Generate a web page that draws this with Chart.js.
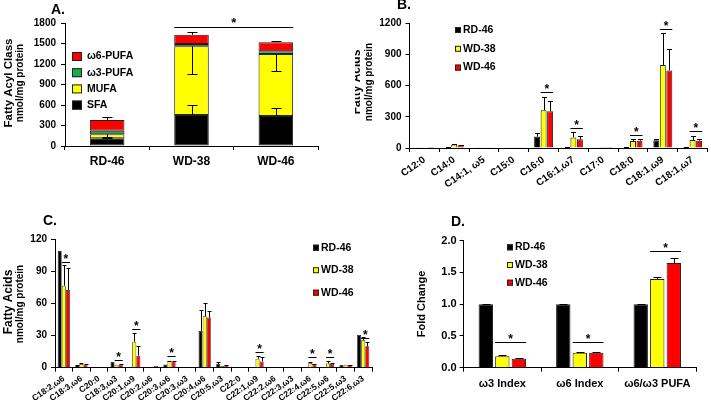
<!DOCTYPE html>
<html><head><meta charset="utf-8">
<script src="https://cdn.jsdelivr.net/npm/chart.js@4.4.1/dist/chart.umd.min.js"></script>
<style>
html,body{margin:0;padding:0;background:#fff;}
#wrap{position:relative;width:711px;height:405px;overflow:hidden;background:#fff;}
canvas{position:absolute;}
</style></head><body>
<div id="wrap">
<canvas id="cA" width="355" height="200" style="left:0;top:0;width:355px;height:200px"></canvas>
<canvas id="cB" width="356" height="200" style="left:355px;top:0;width:356px;height:200px"></canvas>
<canvas id="cC" width="380" height="205" style="left:0;top:200px;width:380px;height:205px"></canvas>
<canvas id="cD" width="331" height="205" style="left:380px;top:200px;width:331px;height:205px"></canvas>
</div>
<script>
// ---------- DATA ----------
// Panel A (stacked fatty acyl classes, nmol/mg protein)
const groupsA = ['RD-46', 'WD-38', 'WD-46'];
const sfaA  = [112, 455, 440];
const mufaA = [60, 1003, 905];
const w3A   = [53, 34, 40];
const w6A   = [157, 137, 132];
const sfaErrA  = [10, 147, 113];
const mufaErrA = [35, 400, 245];
const w6ErrA   = [45, 39, 19];
const ticksA = [0, 300, 600, 900, 1200, 1500, 1800];
const sigA = { from: 1, to: 2, level: 1741 };

// Panel B (fatty acids)
const catsB = ['C12:0', 'C14:0', 'C14:1, ω5', 'C15:0', 'C16:0', 'C16:1,ω7', 'C17:0', 'C18:0', 'C18:1,ω9', 'C18:1,ω7'];
const rdB   = [2, 5, 2, 2, 111, 8, 2, 5, 75, 10];
const wd38B = [2, 33, 3, 3, 363, 102, 1, 67, 796, 76];
const wd46B = [1, 27, 3, 3, 353, 83, 1, 70, 745, 70];
const rdErrB   = [0, 1, 0, 0, 29, 2, 0, 1, 15, 2];
const wd38ErrB = [0, 5, 0, 0, 130, 48, 0, 19, 308, 35];
const wd46ErrB = [0, 3, 0, 0, 99, 28, 0, 16, 207, 16];
const ticksB = [0, 300, 600, 900, 1200];
const sigCatsB = [4, 5, 7, 8, 9];
const sigLevelsB = [538, 191, 124, 1143, 165];

// Panel C (PUFA / long chain)
const catsC = ['C18:2,ω6', 'C18:3,ω6', 'C20:0', 'C18:3,ω3', 'C20:1,ω9', 'C20:2,ω6', 'C20:3,ω6', 'C20:3,ω3', 'C20:4,ω6', 'C20:5,ω3', 'C22:0', 'C22:1,ω9', 'C22:2,ω6', 'C22:3,ω3', 'C22:4,ω6', 'C22:5,ω6', 'C22:5,ω3', 'C22:6,ω3'];
const rdC   = [109.4, 2.2, 0.5, 5.3, 0.3, 0.5, 3.0, 0.2, 34.3, 3.4, 0.2, 0.3, 0.1, 0.1, 0.3, 0.3, 2.5, 30.5];
const wd38C = [76.7, 3.5, 0.2, 2.8, 24.3, 1.0, 6.2, 0.2, 48.0, 1.5, 0.2, 8.4, 0.2, 0.2, 4.4, 4.0, 2.8, 26.0];
const wd46C = [72.6, 2.8, 0.2, 3.0, 11.2, 1.6, 5.6, 0.2, 46.8, 2.2, 0.2, 5.9, 0.2, 0.2, 3.4, 3.7, 2.5, 20.0];
const rdErrC   = [0, 0.5, 0.3, 0, 0, 0, 0, 0, 19.6, 1.6, 0, 0, 0, 0, 0, 0, 0, 0];
const wd38ErrC = [19, 1, 0, 0, 7.7, 0, 0.5, 0, 12.8, 0, 0, 2.5, 0, 0, 0.9, 1.9, 0, 3];
const wd46ErrC = [20.3, 0.5, 0, 0.3, 9.4, 0, 0.9, 0, 6.2, 0.3, 0, 4.4, 0, 0, 0.5, 0.5, 0.3, 4];
const ticksC = [0, 30, 60, 90, 120];
const sigCatsC = [0, 3, 4, 6, 11, 14, 15, 17];
const sigLevelsC = [99, 7.2, 36, 11, 15, 10, 10, 28];

// Panel D (fold change)
const catsD = ['ω3 Index', 'ω6 Index', 'ω6/ω3 PUFA'];
const rdD   = [1.0, 1.0, 1.0];
const wd38D = [0.18, 0.236, 1.396];
const wd46D = [0.14, 0.236, 1.65];
const rdErrD   = [0.01, 0.01, 0.01];
const wd38ErrD = [0.02, 0.015, 0.04];
const wd46ErrD = [0.02, 0.01, 0.07];
const ticksD = [0, 0.5, 1.0, 1.5, 2.0];
const sigCatsD = [0, 1, 2];
const sigLevelsD = [0.40, 0.41, 1.83];

const seriesNames = ['RD-46', 'WD-38', 'WD-46'];
// ---------- STYLE ----------
const FF = '"Liberation Sans", Arial, Helvetica, sans-serif';
const BLACK = '#000000', YELLOW = '#FFFF00', RED = '#FF0000', GREEN = '#1FAA4A';
Chart.defaults.font.family = FF;
Chart.defaults.color = '#000';

// ---------- PLUGINS ----------
const errPlugin = {
  id: 'errbars',
  afterDatasetsDraw(chart, args, o) {
    const ctx = chart.ctx, ys = chart.scales.y;
    const cap = (o && o.cap) || 3;
    ctx.save();
    ctx.strokeStyle = '#000'; ctx.lineWidth = 1;
    chart.data.datasets.forEach((ds, di) => {
      if (!ds.err) return;
      const dir = ds.errDir || 1;
      chart.getDatasetMeta(di).data.forEach((el, i) => {
        const e = ds.err[i];
        if (!e) return;
        const px = Math.abs(ys.getPixelForValue(0) - ys.getPixelForValue(e));
        const y0 = el.y, y1 = el.y - dir * px;
        const x = Math.round(el.x) + 0.5;
        const yc = Math.round(y1) + 0.5;
        ctx.beginPath();
        ctx.moveTo(x, y0); ctx.lineTo(x, yc);
        ctx.moveTo(x - cap, yc); ctx.lineTo(x + cap, yc);
        ctx.stroke();
      });
    });
    ctx.restore();
  }
};

const sigPlugin = {
  id: 'sig',
  afterDatasetsDraw(chart, args, o) {
    if (!o || !o.items) return;
    const ctx = chart.ctx, ys = chart.scales.y;
    ctx.save();
    ctx.strokeStyle = '#000'; ctx.lineWidth = 1; ctx.fillStyle = '#000';
    ctx.font = o.font; ctx.textAlign = 'center'; ctx.textBaseline = 'alphabetic';
    o.items.forEach(it => {
      const a = chart.getDatasetMeta(o.dsFrom).data[it.from];
      const b = chart.getDatasetMeta(o.dsTo).data[it.to];
      const x1 = a.x - a.width / 2, x2 = b.x + b.width / 2;
      const y = Math.round(ys.getPixelForValue(it.level)) + 0.5;
      ctx.beginPath(); ctx.moveTo(x1, y); ctx.lineTo(x2, y); ctx.stroke();
      ctx.fillText('*', (x1 + x2) / 2, y + (o.starDy || 0));
    });
    ctx.restore();
  }
};

const decorPlugin = {
  id: 'decor',
  afterDraw(chart, args, o) {
    const ctx = chart.ctx;
    ctx.save();
    ctx.fillStyle = '#000';
    (o.texts || []).forEach(t => {
      ctx.save();
      ctx.font = t.font; ctx.textAlign = 'center'; ctx.textBaseline = 'middle';
      ctx.translate(t.x, t.y);
      if (t.rot) ctx.rotate(t.rot);
      ctx.fillText(t.text, 0, 0);
      ctx.restore();
    });
    if (o.legend) {
      const L = o.legend;
      let ds = chart.data.datasets.slice();
      if (L.reverse) ds.reverse();
      ds.forEach((d, k) => {
        const yy = L.y + k * L.dy;
        ctx.fillStyle = d.backgroundColor;
        ctx.fillRect(L.x, yy - L.bh / 2, L.bw, L.bh);
        ctx.strokeStyle = '#222'; ctx.lineWidth = 1;
        ctx.strokeRect(L.x + 0.5, yy - L.bh / 2 + 0.5, L.bw - 1, L.bh - 1);
        ctx.fillStyle = '#000';
        ctx.font = L.font; ctx.textAlign = 'left'; ctx.textBaseline = 'middle';
        ctx.fillText(d.label, L.x + L.bw + L.gap, yy);
      });
    }
    ctx.restore();
  }
};

function yScale(min, max, ticks, font, width, pad, fmt) {
  return {
    min: min, max: max,
    afterBuildTicks: s => { s.ticks = ticks.map(v => ({ value: v })); },
    afterFit: s => { s.width = width; },
    grid: { display: true, drawOnChartArea: false, drawTicks: true, tickLength: 4, color: '#000', lineWidth: 1 },
    border: { display: true, color: '#000', width: 1 },
    ticks: { font: font, color: '#000', padding: pad, callback: fmt || (v => v) }
  };
}
function xScale(font, height, pad, rot, stacked) {
  return {
    stacked: !!stacked,
    afterFit: s => { s.height = height; },
    grid: { display: true, offset: true, drawOnChartArea: false, drawTicks: true, tickLength: 4, color: '#000', lineWidth: 1 },
    border: { display: true, color: '#000', width: 1 },
    ticks: { font: font, color: '#000', padding: pad, autoSkip: false, minRotation: rot, maxRotation: rot }
  };
}
function groupDatasets(vals, errs, catPct, barPct, bw) {
  const cols = [BLACK, YELLOW, RED];
  return vals.map((v, k) => ({
    label: seriesNames[k], data: v, err: errs[k],
    backgroundColor: cols[k], borderColor: '#222', borderWidth: bw, borderSkipped: 'bottom',
    categoryPercentage: catPct, barPercentage: barPct
  }));
}
const common = { responsive: false, animation: false, events: [], devicePixelRatio: 1 };
const noLegend = { legend: { display: false }, tooltip: { enabled: false }, title: { display: false } };

// ---------- PANEL A ----------
new Chart(document.getElementById('cA'), {
  type: 'bar',
  data: {
    labels: groupsA,
    datasets: [
      { label: 'SFA', data: sfaA, err: sfaErrA, errDir: 1, backgroundColor: BLACK },
      { label: 'MUFA', data: mufaA, err: mufaErrA, errDir: -1, backgroundColor: YELLOW },
      { label: 'ω3-PUFA', data: w3A, backgroundColor: GREEN },
      { label: 'ω6-PUFA', data: w6A, err: w6ErrA, errDir: 1, backgroundColor: RED }
    ].map(d => Object.assign(d, { borderColor: '#222', borderWidth: 1, borderSkipped: false, categoryPercentage: 1, barPercentage: 0.41 }))
  },
  options: Object.assign({}, common, {
    layout: { padding: { top: 23, right: 37, left: 0, bottom: 0 } },
    scales: {
      x: xScale({ size: 12, weight: 'bold' }, 54, 4, 0, true),
      y: Object.assign(yScale(0, 1800, ticksA, { size: 10, weight: 'bold' }, 65, 5), { stacked: true })
    },
    plugins: Object.assign({}, noLegend, {
      errbars: { cap: 5 },
      sig: { dsFrom: 0, dsTo: 0, items: [sigA], font: 'bold 13px ' + FF, starDy: -1 },
      decor: {
        texts: [
          { text: 'A.', x: 58, y: 10, font: 'bold 14px ' + FF },
          { text: 'Fatty Acyl Class', x: 9, y: 83, rot: -Math.PI / 2, font: 'bold 11.5px ' + FF },
          { text: 'nmol/mg protein', x: 20, y: 83, rot: -Math.PI / 2, font: 'bold 10px ' + FF }
        ],
        legend: { x: 72, y: 56.5, dy: 16.2, bw: 10, bh: 9, gap: 5, reverse: true, font: 'bold 10.5px ' + FF }
      }
    })
  }),
  plugins: [errPlugin, sigPlugin, decorPlugin]
});

// ---------- PANEL B ----------
new Chart(document.getElementById('cB'), {
  type: 'bar',
  data: { labels: catsB, datasets: groupDatasets([rdB, wd38B, wd46B], [rdErrB, wd38ErrB, wd46ErrB], 0.655, 0.92, 1) },
  options: Object.assign({}, common, {
    layout: { padding: { top: 23, right: 3.5, left: 0, bottom: 0 } },
    scales: {
      x: xScale({ size: 10, weight: 'bold' }, 52, 2, 35),
      y: yScale(0, 1200, ticksB, { size: 10, weight: 'bold' }, 54.5, 4)
    },
    plugins: Object.assign({}, noLegend, {
      errbars: { cap: 2.5 },
      sig: { dsFrom: 1, dsTo: 2, items: sigCatsB.map((c, k) => ({ from: c, to: c, level: sigLevelsB[k] })), font: 'bold 12px ' + FF, starDy: 0 },
      decor: {
        texts: [
          { text: 'B.', x: 49, y: 5, font: 'bold 14px ' + FF },
          { text: 'Fatty Acids', x: 2, y: 82, rot: -Math.PI / 2, font: 'bold 12px ' + FF },
          { text: 'nmol/mg protein', x: 14, y: 82, rot: -Math.PI / 2, font: 'bold 10px ' + FF }
        ],
        legend: { x: 100, y: 30, dy: 18.8, bw: 6, bh: 6, gap: 2, font: 'bold 10.5px ' + FF }
      }
    })
  }),
  plugins: [errPlugin, sigPlugin, decorPlugin]
});

// ---------- PANEL C ----------
new Chart(document.getElementById('cC'), {
  type: 'bar',
  data: { labels: catsC, datasets: groupDatasets([rdC, wd38C, wd46C], [rdErrC, wd38ErrC, wd46ErrC], 0.70, 0.98, 0.75) },
  options: Object.assign({}, common, {
    layout: { padding: { top: 39.3, right: 8, left: 0, bottom: 0 } },
    scales: {
      x: xScale({ size: 8.5, weight: 'bold' }, 37.3, 2, 35),
      y: yScale(0, 120, ticksC, { size: 10, weight: 'bold' }, 55, 4)
    },
    plugins: Object.assign({}, noLegend, {
      errbars: { cap: 2 },
      sig: { dsFrom: 1, dsTo: 2, items: sigCatsC.map((c, k) => ({ from: c, to: c, level: sigLevelsC[k] })), font: 'bold 12px ' + FF, starDy: 0 },
      decor: {
        texts: [
          { text: 'C.', x: 50, y: 21, font: 'bold 14px ' + FF },
          { text: 'Fatty Acids', x: 9, y: 102, rot: -Math.PI / 2, font: 'bold 12px ' + FF },
          { text: 'nmol/mg protein', x: 20, y: 104, rot: -Math.PI / 2, font: 'bold 10px ' + FF }
        ],
        legend: { x: 313, y: 47.7, dy: 22.5, bw: 6, bh: 6, gap: 2, font: 'bold 10.5px ' + FF }
      }
    })
  }),
  plugins: [errPlugin, sigPlugin, decorPlugin]
});

// ---------- PANEL D ----------
new Chart(document.getElementById('cD'), {
  type: 'bar',
  data: { labels: catsD, datasets: groupDatasets([rdD, wd38D, wd46D], [rdErrD, wd38ErrD, wd46ErrD], 0.64, 0.87, 1) },
  options: Object.assign({}, common, {
    layout: { padding: { top: 40.7, right: 15, left: 0, bottom: 0 } },
    scales: {
      x: xScale({ size: 11, weight: 'bold' }, 37.3, 6, 0),
      y: yScale(0, 2, ticksD, { size: 11, weight: 'bold' }, 83.6, 3, v => Number(v).toFixed(1))
    },
    plugins: Object.assign({}, noLegend, {
      errbars: { cap: 4 },
      sig: { dsFrom: 1, dsTo: 2, items: sigCatsD.map((c, k) => ({ from: c, to: c, level: sigLevelsD[k] })), font: 'bold 12px ' + FF, starDy: 0 },
      decor: {
        texts: [
          { text: 'D.', x: 78, y: 22, font: 'bold 14px ' + FF },
          { text: 'Fold Change', x: 42, y: 104, rot: -Math.PI / 2, font: 'bold 11px ' + FF }
        ],
        legend: { x: 127, y: 47.3, dy: 17.7, bw: 6, bh: 6, gap: 2, font: 'bold 10.5px ' + FF }
      }
    })
  }),
  plugins: [errPlugin, sigPlugin, decorPlugin]
});
</script>
</body></html>
